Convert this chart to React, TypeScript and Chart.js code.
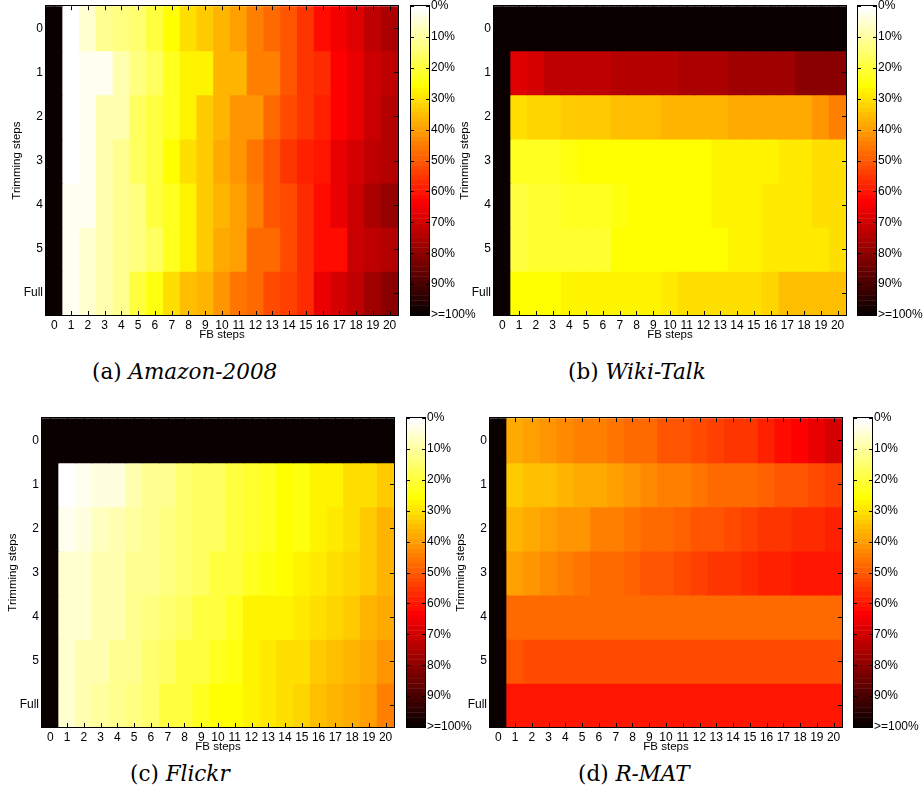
import React, { useEffect, useRef } from 'react';
import { Chart, registerables } from 'chart.js';
Chart.register(...registerables);

// ---- axis labels ----
const fbSteps = ['0','1','2','3','4','5','6','7','8','9','10','11','12','13','14','15','16','17','18','19','20'];
const trimSteps = ['0','1','2','3','4','5','Full'];
const colorbarTicks = [0,10,20,30,40,50,60,70,80,90,100];

// ---- data (% values, rows = trimming steps 0..5, Full; columns = FB steps 0..20) ----
const amazon = [
  [100, 1, 5, 11, 14, 15, 19, 25, 31, 34, 37, 40, 44, 48, 51, 56, 61, 65, 68, 72, 76],
  [100, 0, 2, 3, 8, 14, 17, 22, 27, 28, 36, 37, 44, 45, 50, 55, 57, 64, 66, 71, 73],
  [100, 0, 2, 8, 9, 16, 19, 23, 28, 33, 36, 41, 41, 48, 52, 55, 58, 64, 67, 71, 74],
  [100, 0, 2, 9, 11, 16, 19, 25, 31, 34, 39, 41, 46, 51, 55, 58, 60, 67, 70, 72, 74],
  [100, 2, 2, 8, 11, 14, 19, 22, 28, 34, 37, 40, 45, 50, 52, 57, 62, 67, 71, 75, 79],
  [100, 2, 5, 8, 12, 14, 17, 22, 28, 33, 39, 40, 48, 48, 52, 57, 62, 62, 71, 73, 74],
  [100, 3, 6, 9, 12, 20, 24, 30, 35, 36, 41, 46, 48, 53, 54, 57, 67, 70, 73, 77, 81],
];
const wikiTalk = [
  [100, 100, 100, 100, 100, 100, 100, 100, 100, 100, 100, 100, 100, 100, 100, 100, 100, 100, 100, 100, 100],
  [100, 68, 70, 72, 72, 72, 72, 74, 74, 74, 74, 76, 76, 76, 77, 77, 78, 78, 80, 80, 80],
  [100, 30, 32, 32, 33, 33, 33, 35, 35, 35, 36, 36, 36, 36, 38, 38, 39, 39, 39, 41, 44],
  [100, 23, 23, 23, 24, 25, 25, 25, 25, 26, 26, 26, 26, 27, 28, 28, 28, 29, 29, 30, 30],
  [100, 19, 21, 21, 22, 23, 23, 24, 25, 25, 25, 26, 26, 27, 27, 28, 29, 29, 29, 30, 30],
  [100, 19, 21, 21, 21, 21, 21, 25, 25, 25, 26, 26, 26, 26, 28, 28, 29, 29, 29, 29, 30],
  [100, 26, 26, 26, 27, 27, 27, 28, 28, 28, 29, 30, 30, 30, 30, 30, 32, 35, 35, 35, 35],
];
const flickr = [
  [100, 100, 100, 100, 100, 100, 100, 100, 100, 100, 100, 100, 100, 100, 100, 100, 100, 100, 100, 100, 100],
  [100, 1, 3, 4, 4, 9, 11, 12, 15, 17, 17, 19, 21, 22, 25, 24, 27, 28, 30, 31, 34],
  [100, 2, 4, 7, 8, 10, 11, 14, 15, 17, 17, 19, 21, 22, 25, 24, 28, 29, 31, 33, 36],
  [100, 5, 6, 8, 9, 11, 12, 14, 15, 17, 19, 20, 22, 24, 26, 28, 29, 31, 32, 34, 37],
  [100, 5, 6, 8, 9, 12, 14, 15, 17, 19, 20, 23, 27, 27, 28, 29, 31, 32, 34, 36, 39],
  [100, 6, 8, 9, 11, 12, 15, 17, 19, 20, 22, 24, 28, 29, 31, 31, 33, 35, 36, 39, 41],
  [100, 6, 8, 10, 12, 14, 15, 19, 20, 23, 25, 26, 28, 29, 31, 32, 35, 36, 38, 40, 44],
];
const rmat = [
  [100, 39, 40, 41, 43, 44, 45, 46, 47, 48, 50, 51, 52, 54, 55, 56, 58, 62, 64, 67, 70],
  [100, 34, 35, 35, 36, 38, 39, 40, 41, 43, 44, 45, 46, 47, 48, 48, 49, 50, 51, 52, 54],
  [100, 36, 39, 40, 41, 41, 44, 45, 46, 47, 48, 49, 50, 51, 52, 54, 55, 56, 57, 57, 58],
  [100, 40, 41, 43, 45, 46, 47, 47, 49, 50, 51, 52, 54, 55, 56, 57, 58, 58, 60, 60, 60],
  [100, 48, 48, 48, 48, 48, 48, 48, 48, 48, 48, 48, 48, 48, 48, 48, 48, 48, 48, 48, 48],
  [100, 51, 53, 53, 53, 53, 53, 53, 53, 53, 53, 53, 53, 53, 53, 53, 53, 53, 53, 53, 53],
  [100, 60, 60, 60, 60, 60, 60, 60, 60, 60, 60, 60, 60, 60, 60, 60, 60, 60, 60, 60, 60],
];

// ---- layout ----
const SANS = "'Liberation Sans', Arial, Helvetica, sans-serif";
const PLOT_W = 352;
const PLOT_H = 309;
const CB_W = 18;
const Y_W = 46;
const X_H = 28;
const PAD_T = 10;
const PAD_R = 4;

const panels = [
  { values: amazon, plotL: 46, plotT: 6, cbL: 411, tag: '(a) ', name: 'Amazon-2008', capL: 92, capY: 372 },
  { values: wikiTalk, plotL: 494, plotT: 6, cbL: 858, tag: '(b) ', name: 'Wiki-Talk', capL: 568, capY: 372 },
  { values: flickr, plotL: 42, plotT: 418, cbL: 407, tag: '(c) ', name: 'Flickr', capL: 130, capY: 774 },
  { values: rmat, plotL: 490, plotT: 418, cbL: 854, tag: '(d) ', name: 'R-MAT', capL: 578, capY: 774 },
];

// inverted MATLAB "hot" colormap, 64 levels: 0% white -> 100% black
function hotColor(v: number): string {
  const n = 64;
  let i = Math.floor((v / 100) * n);
  if (i > n - 1) i = n - 1;
  if (i < 0) i = 0;
  const k = n - 1 - i;
  const r = k < 24 ? (k + 1) / 24 : 1;
  const g = k < 24 ? 0 : k < 48 ? (k - 23) / 24 : 1;
  const b = k < 48 ? 0 : (k - 47) / 16;
  return `rgb(${Math.round(r * 255)},${Math.round(g * 255)},${Math.round(b * 255)})`;
}

const heatBoxPlugin = {
  id: 'heatBox',
  afterDraw(chart: any) {
    const { ctx, chartArea } = chart;
    const { left, right, top, bottom } = chartArea;
    const xs = chart.scales.x;
    const ys = chart.scales.y;
    ctx.save();
    ctx.strokeStyle = '#000';
    ctx.lineWidth = 1;
    ctx.beginPath();
    xs.ticks.forEach((_: any, i: number) => {
      const px = Math.round(xs.getPixelForTick(i)) + 0.5;
      ctx.moveTo(px, bottom);
      ctx.lineTo(px, bottom - 4);
      ctx.moveTo(px, top);
      ctx.lineTo(px, top + 4);
    });
    ys.ticks.forEach((t: any) => {
      const py = Math.round(ys.getPixelForValue(t.value)) + 0.5;
      ctx.moveTo(left, py);
      ctx.lineTo(left + 4, py);
      ctx.moveTo(right, py);
      ctx.lineTo(right - 4, py);
    });
    ctx.stroke();
    ctx.strokeRect(Math.round(left) - 0.5, Math.round(top) - 0.5, Math.round(right - left) + 1, Math.round(bottom - top) + 1);
    ctx.restore();
  },
};

const cbBoxPlugin = {
  id: 'cbBox',
  afterDraw(chart: any) {
    const { ctx, chartArea } = chart;
    const { left, right, top, bottom } = chartArea;
    const ys = chart.scales.yp;
    ctx.save();
    ctx.strokeStyle = '#000';
    ctx.lineWidth = 1;
    ctx.beginPath();
    colorbarTicks.forEach((v) => {
      const py = Math.round(ys.getPixelForValue(v)) + 0.5;
      ctx.moveTo(left, py);
      ctx.lineTo(left + 3, py);
      ctx.moveTo(right, py);
      ctx.lineTo(right - 3, py);
    });
    ctx.stroke();
    ctx.strokeRect(Math.round(left) - 0.5, Math.round(top) - 0.5, Math.round(right - left) + 1, Math.round(bottom - top) + 1);
    ctx.restore();
  },
};

function Heatmap({ values, plotL, plotT }: any) {
  const ref = useRef<HTMLCanvasElement>(null);
  const w = Y_W + PLOT_W + PAD_R;
  const h = PAD_T + PLOT_H + X_H;
  useEffect(() => {
    const datasets = values.map((row: number[], r: number) => ({
      data: row.map(() => [r - 0.52, r + 0.52]),
      backgroundColor: row.map(hotColor),
      borderWidth: 0,
      grouped: false,
      barPercentage: 1.05,
      categoryPercentage: 1,
    }));
    const chart = new Chart(ref.current as HTMLCanvasElement, {
      type: 'bar',
      data: { labels: fbSteps, datasets },
      options: {
        animation: false,
        responsive: false,
        events: [],
        layout: { padding: { top: PAD_T, right: PAD_R, left: 0, bottom: 0 } },
        plugins: { legend: { display: false }, tooltip: { enabled: false } },
        scales: {
          x: {
            type: 'category',
            offset: true,
            grid: { display: false, drawTicks: false },
            border: { display: false },
            ticks: { color: '#000', font: { family: SANS, size: 12 }, padding: 3, maxRotation: 0, autoSkip: false },
            title: { display: true, text: 'FB steps', color: '#000', font: { family: SANS, size: 11.5 }, padding: { top: 0, bottom: 1 } },
            afterFit: (s: any) => { s.height = X_H; },
          },
          y: {
            type: 'linear',
            min: -0.5,
            max: 6.5,
            reverse: true,
            offset: false,
            grid: { display: false, drawTicks: false },
            border: { display: false },
            afterBuildTicks: (s: any) => { s.ticks = trimSteps.map((_, i) => ({ value: i })); },
            ticks: {
              color: '#000',
              font: { family: SANS, size: 12 },
              padding: 3,
              callback: (_v: any, i: number) => trimSteps[i],
            },
            title: { display: true, text: 'Trimming steps', color: '#000', font: { family: SANS, size: 11.5 }, padding: { top: 10, bottom: 0 } },
            afterFit: (s: any) => { s.width = Y_W; },
          },
        },
      } as any,
      plugins: [heatBoxPlugin],
    });
    return () => chart.destroy();
  }, []);
  return (
    <canvas
      ref={ref}
      width={w}
      height={h}
      style={{ position: 'absolute', left: plotL - Y_W, top: plotT - PAD_T, width: w, height: h }}
    />
  );
}

function ColorBar({ cbL, plotT }: any) {
  const ref = useRef<HTMLCanvasElement>(null);
  const left = cbL - 2;
  const w = Math.min(90, 923 - left);
  const h = PAD_T + PLOT_H + PAD_T;
  useEffect(() => {
    const levels: string[] = [];
    const levelColors: string[] = [];
    const ones: number[] = [];
    for (let i = 0; i < 64; i++) {
      levels.push(String(i));
      levelColors.push(hotColor(((i + 0.5) / 64) * 100));
      ones.push(1);
    }
    const chart = new Chart(ref.current as HTMLCanvasElement, {
      type: 'bar',
      data: {
        labels: levels,
        datasets: [{
          data: ones,
          backgroundColor: levelColors,
          borderWidth: 0,
          barPercentage: 1.08,
          categoryPercentage: 1,
          xAxisID: 'x',
          yAxisID: 'yc',
        }],
      },
      options: {
        indexAxis: 'y',
        animation: false,
        responsive: false,
        events: [],
        layout: { padding: { top: PAD_T, bottom: PAD_T, left: 2, right: 0 } },
        plugins: { legend: { display: false }, tooltip: { enabled: false } },
        scales: {
          x: { type: 'linear', min: 0, max: 1, display: false, offset: false },
          yc: { type: 'category', display: false, offset: true },
          yp: {
            type: 'linear',
            position: 'right',
            min: 0,
            max: 100,
            reverse: true,
            offset: false,
            grid: { display: false, drawTicks: false, offset: false },
            border: { display: false },
            afterBuildTicks: (s: any) => { s.ticks = colorbarTicks.map((v) => ({ value: v })); },
            ticks: {
              color: '#000',
              font: { family: SANS, size: 12 },
              padding: 2,
              callback: (v: any) => (v >= 100 ? '>=100%' : v + '%'),
            },
            afterFit: (s: any) => { s.width = w - 2 - CB_W; },
          },
        },
      } as any,
      plugins: [cbBoxPlugin],
    });
    return () => chart.destroy();
  }, []);
  return (
    <canvas
      ref={ref}
      width={w}
      height={h}
      style={{ position: 'absolute', left, top: plotT - PAD_T, width: w, height: h }}
    />
  );
}

function Caption({ tag, name, capL, capY }: any) {
  return (
    <div
      style={{
        position: 'absolute',
        left: capL,
        top: capY - 13,
        height: 26,
        lineHeight: '26px',
        whiteSpace: 'nowrap',
        fontFamily: "'DejaVu Serif', 'Liberation Serif', serif",
        fontSize: 21.5,
        color: '#000',
      }}
    >
      {tag}
      <i>{name}</i>
    </div>
  );
}

export default function App() {
  return (
    <div style={{ position: 'fixed', left: 0, top: 0, width: 923, height: 794, overflow: 'hidden', background: '#fff' }}>
      {panels.map((p, i) => (
        <Heatmap key={'h' + i} values={p.values} plotL={p.plotL} plotT={p.plotT} />
      ))}
      {panels.map((p, i) => (
        <ColorBar key={'c' + i} cbL={p.cbL} plotT={p.plotT} />
      ))}
      {panels.map((p, i) => (
        <Caption key={'t' + i} tag={p.tag} name={p.name} capL={p.capL} capY={p.capY} />
      ))}
    </div>
  );
}
